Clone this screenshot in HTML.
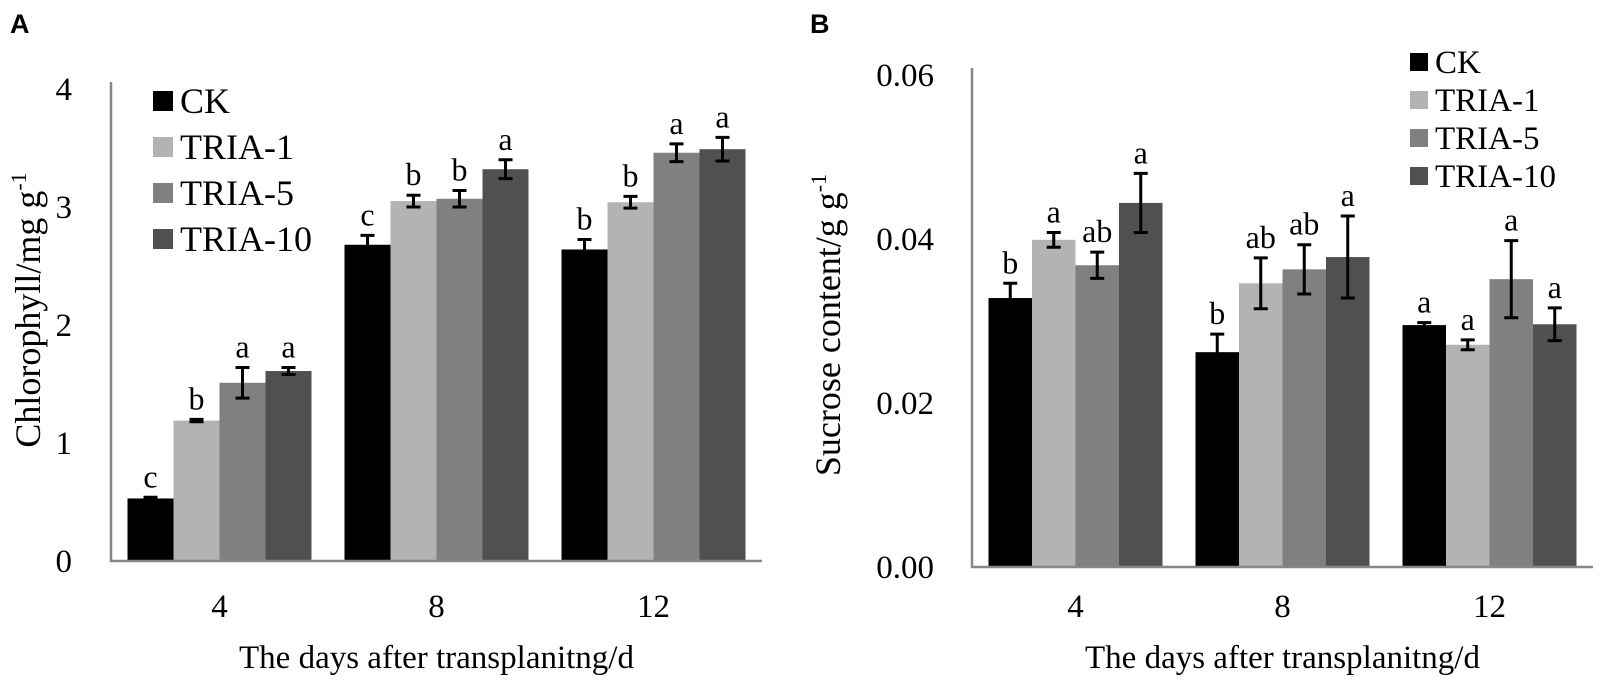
<!DOCTYPE html>
<html><head><meta charset="utf-8"><style>
html,body{margin:0;padding:0;background:#fff;}
svg{display:block;font-family:"Liberation Serif",serif;}
</style></head><body>
<svg id="fig" width="1600" height="685" viewBox="0 0 1600 685" xmlns="http://www.w3.org/2000/svg">
<text x="10" y="33" font-family="Liberation Sans, sans-serif" font-weight="bold" font-size="27">A</text>
<text x="810" y="33" font-family="Liberation Sans, sans-serif" font-weight="bold" font-size="27">B</text>
<g id="pa"></g>
<g id="pb"></g>
</svg>
<script>
const categories = ["4","8","12"];
const seriesNames = ["CK","TRIA-1","TRIA-5","TRIA-10"];
const seriesColors = ["#000000","#b3b3b3","#808080","#505050"];
// Panel A: chlorophyll
const chlCK = [0.53, 2.68, 2.64];
const chlT1 = [1.19, 3.05, 3.04];
const chlT5 = [1.51, 3.07, 3.46];
const chlT10 = [1.61, 3.32, 3.49];
const chlErrCK = [0.01, 0.08, 0.085];
const chlErrT1 = [0.01, 0.05, 0.05];
const chlErrT5 = [0.13, 0.07, 0.075];
const chlErrT10 = [0.03, 0.08, 0.1];
const chlLetters = [["c","b","a","a"],["c","b","b","a"],["b","b","a","a"]];
const chlTicks = ["0","1","2","3","4"];
// Panel B: sucrose
const sucCK = [0.0328, 0.0262, 0.0295];
const sucT1 = [0.0399, 0.0346, 0.0271];
const sucT5 = [0.0368, 0.0363, 0.0351];
const sucT10 = [0.0444, 0.0378, 0.0296];
const sucErrCK = [0.0018, 0.0022, 0.0003];
const sucErrT1 = [0.0009, 0.0031, 0.0006];
const sucErrT5 = [0.0016, 0.003, 0.0047];
const sucErrT10 = [0.0036, 0.005, 0.002];
const sucLetters = [["b","a","ab","a"],["b","ab","ab","a"],["a","a","a","a"]];
const sucTicks = ["0.00","0.02","0.04","0.06"];

const NS="http://www.w3.org/2000/svg";
function mk(parent, tag, attrs){const e=document.createElementNS(NS,tag);for(const k in attrs)e.setAttribute(k,attrs[k]);parent.appendChild(e);return e;}

function draw(g, cfg){
  const {x0,y0,band,barW,yMax,yTop,series,errs,letters,ticks,tickVals,tickRight,yTitle,yTitleX,legend}=cfg;
  const yScale=v=>y0-(v/yMax)*(y0-yTop);
  const inset=(band-barW*4)/2;
  for(let c=0;c<categories.length;c++){
    for(let s=0;s<4;s++){
      const v=series[s][c], e=errs[s][c];
      const x=x0+c*band+inset+s*barW;
      const r=mk(g,'rect',{x:x,y:yScale(v),width:barW,height:y0-yScale(v),fill:seriesColors[s]});
      
      
      const cx=x+barW/2, yt=yScale(v+e), yb=yScale(v-e);
      const eb=mk(g,'path',{d:`M${cx-7},${yt}H${cx+7}M${cx},${yt}V${yb}M${cx-7},${yb}H${cx+7}`,stroke:'#000','stroke-width':3,fill:'none'});
      
      
      const t=mk(g,'text',{x:cx,y:yt-10,'text-anchor':'middle','font-size':32});
      t.textContent=letters[c][s];
      
      
    }
    const xl=mk(g,'text',{x:x0+c*band+band/2,y:617,'text-anchor':'middle','font-size':33});
    xl.textContent=categories[c];
    
    
  }
  const ax=mk(g,'path',{d:`M${x0},${yTop-7}V${y0}H${x0+band*3}`,stroke:'#878787','stroke-width':2.5,fill:'none'});
  
  
  for(let i=0;i<ticks.length;i++){
    const t=mk(g,'text',{x:tickRight,y:yScale(tickVals[i])+11,'text-anchor':'end','font-size':33});
    t.textContent=ticks[i];
    
    
  }
  const xt=mk(g,'text',{x:x0+band*1.5,y:668,'text-anchor':'middle','font-size':33});
  xt.textContent='The days after transplanitng/d';
  
  
  const yt=mk(g,'text',{x:0,y:0,'text-anchor':'middle','font-size':36,transform:`translate(${yTitleX},${cfg.yTitleY}) rotate(-90)`});
  yt.innerHTML=yTitle+'<tspan dy="-14" font-size="22">-1</tspan>';
  
  
  for(let s=0;s<4;s++){
    const cy=legend.y+s*legend.dy;
    const sq=mk(g,'rect',{x:legend.x,y:cy-legend.sq/2,width:legend.sq,height:legend.sq,fill:seriesColors[s]});
    
    
    const lt=mk(g,'text',{x:legend.x+legend.sq+7,y:cy+legend.fs*0.34,'font-size':legend.fs});
    lt.textContent=seriesNames[s];
    
    
  }
}
draw(document.getElementById('pa'),{x0:111,y0:561,band:217,barW:46,yMax:4,yTop:89,
  series:[chlCK,chlT1,chlT5,chlT10],errs:[chlErrCK,chlErrT1,chlErrT5,chlErrT10],letters:chlLetters,
  ticks:chlTicks,tickVals:[0,1,2,3,4],tickRight:72,yTitle:'Chlorophyll/mg g',yTitleX:40,yTitleY:310,
  legend:{x:153,y:101,dy:46,sq:20,fs:36}});
draw(document.getElementById('pb'),{x0:972,y0:567,band:207,barW:43.5,yMax:0.06,yTop:75,
  series:[sucCK,sucT1,sucT5,sucT10],errs:[sucErrCK,sucErrT1,sucErrT5,sucErrT10],letters:sucLetters,
  ticks:sucTicks,tickVals:[0,0.02,0.04,0.06],tickRight:934,yTitle:'Sucrose content/g g',yTitleX:840,yTitleY:325,
  legend:{x:1410,y:62,dy:38,sq:18,fs:33}});
</script>
</body></html>
